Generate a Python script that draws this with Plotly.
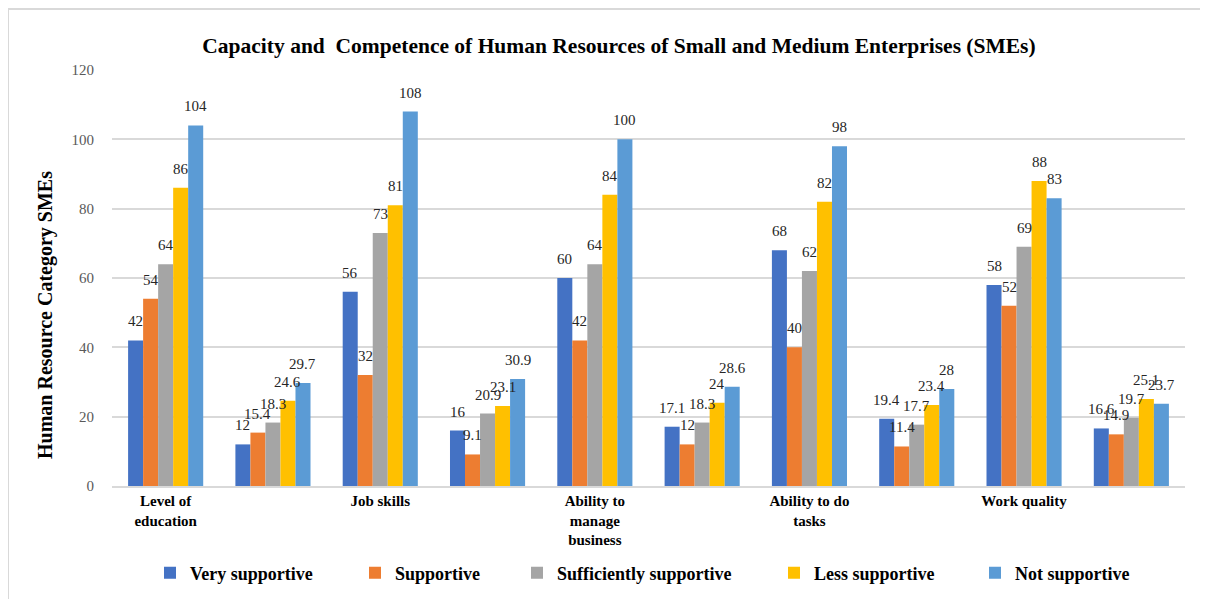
import plotly.graph_objects as go

categories = [
    "Level of education", "Level of education (%)",
    "Job skills", "Job skills (%)",
    "Ability to manage business", "Ability to manage business (%)",
    "Ability to do tasks", "Ability to do tasks (%)",
    "Work quality", "Work quality (%)",
]
tick_vals = ["Level of education", "Job skills", "Ability to manage business",
             "Ability to do tasks", "Work quality"]
tick_text = ["Level of<br>education", "Job skills", "Ability to<br>manage<br>business",
             "Ability to do<br>tasks", "Work quality"]

series_names = ["Very supportive", "Supportive", "Sufficiently supportive",
                "Less supportive", "Not supportive"]
very_supportive = [42, 12, 56, 16, 60, 17.1, 68, 19.4, 58, 16.6]
supportive = [54, 15.4, 32, 9.1, 42, 12, 40, 11.4, 52, 14.9]
sufficiently_supportive = [64, 18.3, 73, 20.9, 64, 18.3, 62, 17.7, 69, 19.7]
less_supportive = [86, 24.6, 81, 23.1, 84, 24, 82, 23.4, 88, 25.1]
not_supportive = [104, 29.7, 108, 30.9, 100, 28.6, 98, 28, 83, 23.7]
series_values = [very_supportive, supportive, sufficiently_supportive,
                 less_supportive, not_supportive]
colors = ["#4472C4", "#ED7D31", "#A5A5A5", "#FFC000", "#5B9BD5"]

FONT = "Liberation Serif, Times New Roman, serif"

# page geometry (page has 8px body margin)
PL, PR, PT, PB = 112, 1185, 70, 486
PW, PH = PR - PL, PB - PT
BARGAP = 0.3
NSER = len(series_names)
BAR_W = PW / len(categories) * (1 - BARGAP) / NSER

def px(x):
    return (x - PL) / PW

def py(y):
    return (PB - y) / PH

legend_text_starts = [188, 393, 555, 812, 1013]
legend_names = ["legend", "legend2", "legend3", "legend4", "legend5"]

fig = go.Figure()
for i, (name, vals, col, lg) in enumerate(zip(series_names, series_values, colors, legend_names)):
    fig.add_trace(go.Bar(
        x=categories, y=vals, name=name, legend=lg,
        marker=dict(color=col, line=dict(width=0)),
        hovertemplate="%{x}<br>" + name + ": %{y}<extra></extra>",
    ))
    for cat, v in zip(categories, vals):
        fig.add_annotation(
            x=cat, y=v, xref="x", yref="y", text=f"{v}",
            showarrow=False, xanchor="center", yanchor="middle",
            xshift=(i - (NSER - 1) / 2) * BAR_W, yshift=19,
            font=dict(family=FONT, size=15, color="#262626"),
        )

layout_legends = {}
for lg, ts in zip(legend_names, legend_text_starts):
    layout_legends[lg] = dict(
        orientation="h", x=px(ts - 38), xanchor="left",
        y=py(573), yanchor="middle",
        font=dict(family=FONT, size=18, color="#000000", weight="bold"),
        itemwidth=30, bgcolor="rgba(0,0,0,0)", borderwidth=0,
    )

fig.update_layout(
    width=1208, height=599,
    margin=dict(l=PL - 8, r=1208 - (PR - 8), t=PT - 8, b=599 - (PB - 8)),
    paper_bgcolor="white", plot_bgcolor="white",
    barmode="group", bargap=BARGAP, bargroupgap=0,
    font=dict(family=FONT, color="#000000"),
    title=dict(
        text="Capacity and  Competence of Human Resources of Small and Medium Enterprises (SMEs)",
        x=611 / 1208, xanchor="center", y=1 - 37 / 599, yanchor="middle",
        font=dict(family=FONT, size=21.5, color="#000000", weight="bold"),
    ),
    xaxis=dict(
        type="category", categoryorder="array", categoryarray=categories,
        tickmode="array", tickvals=tick_vals, ticktext=tick_text,
        tickangle=0, tickfont=dict(family=FONT, size=15, color="#000000", weight="bold"),
        showline=True, linecolor="#D9D9D9", linewidth=2,
        showgrid=False, ticks="", ticklen=0,
    ),
    yaxis=dict(
        range=[0, 120], dtick=20, tick0=0,
        showgrid=True, gridcolor="#D9D9D9", gridwidth=2,
        zeroline=False, showline=False,
        tickfont=dict(family=FONT, size=15, color="#595959"),
        ticks="outside", ticklen=14, tickcolor="rgba(0,0,0,0)",
    ),
    showlegend=True,
    **layout_legends,
)

fig.add_annotation(
    text="Human Resource Category SMEs",
    xref="paper", yref="paper", x=px(45), y=py(315),
    textangle=-90, showarrow=False,
    font=dict(family=FONT, size=20, color="#000000", weight="bold"),
    xanchor="center", yanchor="middle",
)

fig.add_shape(
    type="rect", xref="paper", yref="paper",
    x0=px(8), x1=px(1225), y0=py(615), y1=py(9),
    line=dict(color="#D9D9D9", width=2), fillcolor="rgba(0,0,0,0)",
    layer="below",
)

fig.write_html("out.html")
